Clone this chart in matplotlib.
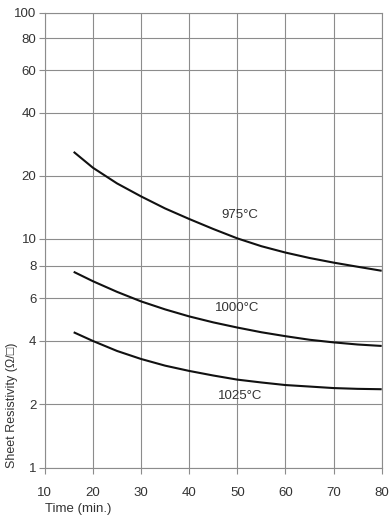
import numpy as np
import matplotlib
matplotlib.use("Agg")
import matplotlib.pyplot as plt

# data
time = [16, 20, 25, 30, 35, 40, 45, 50, 55, 60, 65, 70, 75, 80]
rs_975 = [25.96, 21.8, 18.36, 15.92, 13.95, 12.43, 11.14, 10.05, 9.41, 8.93, 8.54, 8.22, 7.94, 7.66]
rs_1000 = [7.59, 6.98, 6.35, 5.82, 5.39, 5.04, 4.76, 4.53, 4.33, 4.17, 4.03, 3.92, 3.83, 3.77]
rs_1025 = [4.33, 3.98, 3.57, 3.27, 3.04, 2.87, 2.73, 2.61, 2.53, 2.46, 2.42, 2.38, 2.36, 2.35]

curve_labels = ["975°C", "1000°C", "1025°C"]
label_pos = [(50.5, 13.0), (50.0, 5.46), (50.6, 2.19)]

x_ticks = [10, 20, 30, 40, 50, 60, 70, 80]
y_ticks = [1, 2, 4, 6, 8, 10, 20, 40, 60, 80, 100]

# the printed log grid is not quite logarithmic, so place the gridlines
# where the paper has them (in decades from the bottom)
grid_pos = [0, 0.280, 0.559, 0.745, 0.887, 1.006, 1.284, 1.561, 1.748, 1.888, 2.0]
log_ticks = np.log10(y_ticks)


def fwd(v):
    v = np.clip(np.asarray(v, float), 1e-6, None)
    return np.interp(np.log10(v), log_ticks, grid_pos)


def inv(u):
    return 10 ** np.interp(np.asarray(u, float), grid_pos, log_ticks)


font = ["Liberation Sans Narrow", "Liberation Sans", "DejaVu Sans"]
txt = "#333333"
grid_c = "#8c8c8c"

fig = plt.figure(figsize=(3.9, 5.16), dpi=100)
ax = fig.add_axes([0.1149, 0.0936, 0.9787 - 0.1149, 0.9754 - 0.0936])

ax.set_yscale("function", functions=(fwd, inv))
ax.set_xlim(10, 80)
ax.set_ylim(1, 100)

for ys in (rs_975, rs_1000, rs_1025):
    ax.plot(time, ys, color="#111111", lw=1.5, solid_capstyle="butt",
            solid_joinstyle="round")

for lab, (tx, ty) in zip(curve_labels, label_pos):
    ax.text(tx, ty, lab, ha="center", va="center", fontsize=9.5,
            family=font, color=txt)

ax.set_xticks(x_ticks)
ax.set_xticklabels([str(t) for t in x_ticks])
ax.set_yticks(y_ticks)
ax.set_yticklabels([str(t) for t in y_ticks])
ax.set_yticks([], minor=True)
ax.set_xticks([], minor=True)

ax.grid(True, color=grid_c, lw=0.8)
for s in ax.spines.values():
    s.set_color(grid_c)
    s.set_linewidth(0.8)

ax.tick_params(axis="y", length=4, width=0.8, color=grid_c, pad=2,
               labelsize=9.5, labelcolor=txt)
ax.tick_params(axis="x", length=4, width=0.8, color=grid_c, pad=10,
               labelsize=9.5, labelcolor=txt)
for lbl in ax.get_xticklabels() + ax.get_yticklabels():
    lbl.set_family(font)

ax.set_xlabel("Time (min.)", loc="left", fontsize=9.5, family=font,
              color=txt, labelpad=3)
ax.set_ylabel("Sheet Resistivity (Ω/□)", loc="bottom", fontsize=9,
              family=font, color=txt)
ax.yaxis.set_label_coords(-0.081, 0)

fig.savefig("out.png", dpi=100)
